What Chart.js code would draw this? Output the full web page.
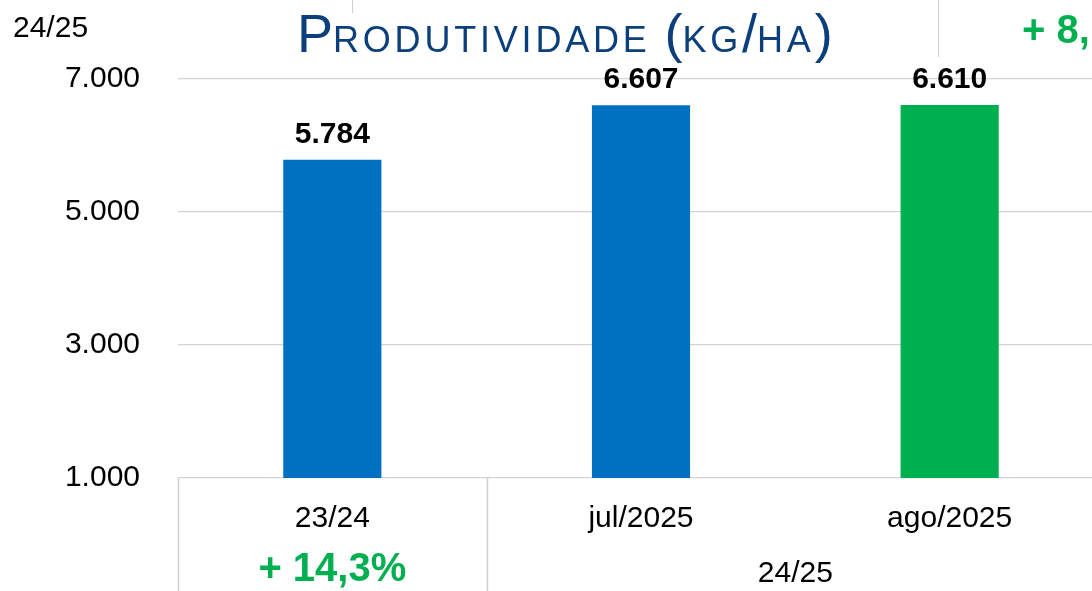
<!DOCTYPE html>
<html>
<head>
<meta charset="utf-8">
<script src="https://cdn.jsdelivr.net/npm/chart.js@4.4.1/dist/chart.umd.min.js"></script>
<style>
  html, body { margin: 0; padding: 0; background: #fff; overflow: hidden; }
  #wrap { position: absolute; left: 0; top: 0; width: 1104px; height: 591px; }
</style>
</head>
<body>
<div id="wrap"><canvas id="chart"></canvas></div>
<script>
// dados
const categories = ['23/24', 'jul/2025', 'ago/2025']
const values = [5784, 6607, 6610]
const barColors = ['#0070C0', '#0070C0', '#00B050']
const yTicks = [1000, 3000, 5000, 7000]
const groupLabels = ['+ 14,3%', '24/25']   // linha de baixo da tabela
const groupSpans = [[0, 0], [1, 2]]
const titleParts = [['P', 54], ['RODUTIVIDADE', 36], [' ', 36], ['(', 54], ['KG', 36], ['/', 54], ['HA', 36], [')', 54]]
const cornerLabel = '24/25'
const cutLabel = '+ 8,'

const FONT = '"Liberation Sans", Arial, sans-serif'
const GREEN = '#00B050'
const LINE = '#CFCFCF'

function fmt(v){
    return String(v).replace(/\B(?=(\d{3})+(?!\d))/g, '.')
}

// rótulos em cima das barras
const barLabels = {
    id: 'barLabels',
    afterDatasetsDraw(chart){
        const ctx = chart.ctx
        const meta = chart.getDatasetMeta(0)
        ctx.save()
        ctx.font = 'bold 30px ' + FONT
        ctx.fillStyle = '#000'
        ctx.textAlign = 'center'
        ctx.textBaseline = 'alphabetic'
        meta.data.forEach((bar, i) => {
            ctx.fillText(fmt(values[i]), bar.x, bar.y - 17)
        })
        ctx.restore()
    }
}

// tabela embaixo + textos do slide
const slideExtras = {
    id: 'slideExtras',
    afterDraw(chart){
        const ctx = chart.ctx
        const x = chart.scales.x
        const area = chart.chartArea
        const H = chart.height
        ctx.save()

        // linhas da tabela
        ctx.strokeStyle = LINE
        ctx.lineWidth = 1.5
        const mid01 = (x.getPixelForValue(0) + x.getPixelForValue(1)) / 2
        ;[area.left, mid01].forEach(px => {
            ctx.beginPath()
            ctx.moveTo(Math.round(px) + 0.5, area.bottom)
            ctx.lineTo(Math.round(px) + 0.5, H)
            ctx.stroke()
        })
        // linhas soltas lá em cima
        ctx.lineWidth = 1
        ctx.beginPath()
        ctx.moveTo(352.5, 0); ctx.lineTo(352.5, 13)
        ctx.moveTo(938.5, 0); ctx.lineTo(938.5, 57)
        ctx.stroke()

        // grupos
        ctx.textAlign = 'center'
        ctx.textBaseline = 'alphabetic'
        groupLabels.forEach((t, i) => {
            const [a, b] = groupSpans[i]
            const cx = (x.getPixelForValue(a) + x.getPixelForValue(b)) / 2
            if (i === 0) {
                ctx.font = 'bold 40px ' + FONT
                ctx.fillStyle = GREEN
                ctx.fillText(t, cx, 581)
            } else {
                ctx.font = '30px ' + FONT
                ctx.fillStyle = '#000'
                ctx.fillText(t, cx, 582)
            }
        })

        // título em versalete
        ctx.textAlign = 'left'
        ctx.fillStyle = '#0A3F7C'
        let tx = 297
        titleParts.forEach(([t, size]) => {
            ctx.font = size + 'px ' + FONT
            ctx.letterSpacing = size < 50 ? '3.8px' : '0px'
            ctx.fillText(t, tx, 52)
            tx += ctx.measureText(t).width
        })
        ctx.letterSpacing = '0px'

        ctx.font = '30px ' + FONT
        ctx.fillStyle = '#000'
        ctx.fillText(cornerLabel, 13, 37)

        ctx.font = 'bold 40px ' + FONT
        ctx.fillStyle = GREEN
        ctx.fillText(cutLabel, 1022, 43)

        ctx.restore()
    }
}

new Chart(document.getElementById('chart'), {
    type: 'bar',
    data: {
        labels: categories,
        datasets: [{
            data: values,
            backgroundColor: barColors,
            barPercentage: 0.318,
            categoryPercentage: 1
        }]
    },
    options: {
        responsive: true,
        maintainAspectRatio: false,
        animation: false,
        layout: { padding: { top: 79, left: 0, right: 0, bottom: 0 } },
        plugins: { legend: { display: false }, tooltip: { enabled: false }, title: { display: false } },
        scales: {
            x: {
                grid: { display: false },
                border: { display: false },
                ticks: { color: '#000', font: { family: FONT, size: 30 }, padding: 15, maxRotation: 0 },
                afterFit(s){ s.height = 113 }
            },
            y: {
                min: 1000,
                max: 7000,
                afterBuildTicks(s){ s.ticks = yTicks.map(v => ({ value: v })) },
                grid: { color: '#D4D4D4', lineWidth: 1.2, drawTicks: false },
                border: { display: false },
                ticks: { color: '#000', font: { family: FONT, size: 30 }, padding: 38, callback: v => fmt(v) },
                afterFit(s){ s.width = 178 }
            }
        }
    },
    plugins: [barLabels, slideExtras]
})
</script>
</body>
</html>
